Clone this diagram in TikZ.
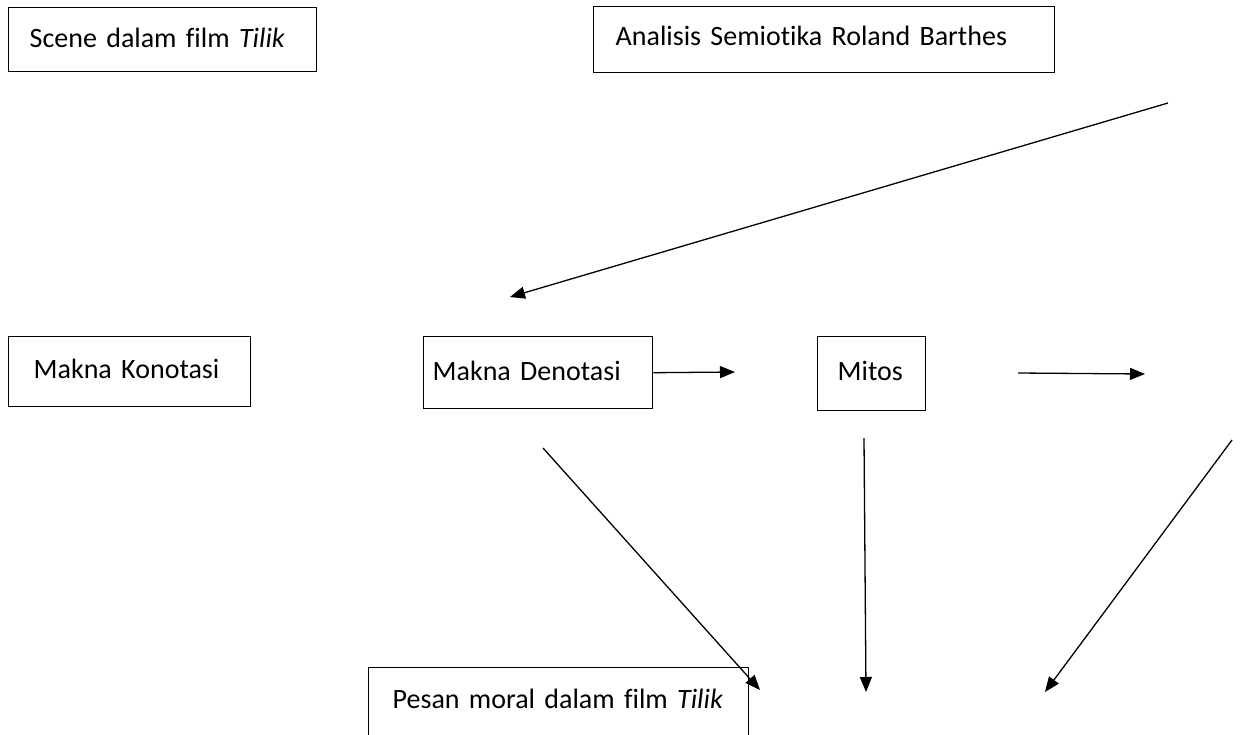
\documentclass[tikz,border=0pt]{standalone}
\usepackage{fontspec}
\setmainfont{Carlito}[Ligatures=NoCommon]
\usetikzlibrary{arrows.meta,positioning}

\begin{document}
\begin{tikzpicture}[x=1pt,y=-1pt,>={Triangle[length=15pt,width=12pt]},
  kotak/.style={draw,line width=1.4pt,inner ysep=0pt,anchor=north west,align=left,
                font=\fontsize{28}{33}\selectfont},
  panah/.style={->,line width=1.3pt}]
  \useasboundingbox (0,0) rectangle (1245,734);
  % kotak-kotak
  \node[kotak,inner xsep=21pt,text width=266pt,text height=40pt,text depth=24pt] (scene) at (8,7) {\mbox{Scene dalam film \textit{Tilik}}};
  \node[kotak,inner xsep=22pt,text width=417pt,text height=39pt,text depth=27pt] (analisis) at (593,6) {\mbox{Analisis Semiotika Roland Barthes}};
  \node[kotak,inner xsep=25pt,text width=192pt,text height=42pt,text depth=28pt] (konotasi) at (8,336) {\mbox{Makna Konotasi}};
  \node[kotak,inner xsep=9pt,text width=211pt,text height=44pt,text depth=28pt] (denotasi) at (423,336) {\mbox{Makna Denotasi}};
  \node[kotak,inner xsep=20pt,text width=68pt,text height=44pt,text depth=30pt] (mitos) at (817,336) {\mbox{Mitos}};
  \node[kotak,inner xsep=24pt,text width=332pt,text height=41pt,text depth=40pt] (pesan) at (368,667) {\mbox{Pesan moral dalam film \textit{Tilik}}};
  % ujung panah
  \coordinate (a1) at (1168,103);
  \coordinate (a2) at (510,297);
  \coordinate (b2) at (735,372);
  \coordinate (c1) at (1018,373);
  \coordinate (c2) at (1145,374);
  \coordinate (d1) at (543,448);
  \coordinate (d2) at (760,690);
  \coordinate (e1) at (864,438);
  \coordinate (e2) at (866,692);
  \coordinate (f1) at (1232,440);
  \coordinate (f2) at (1045,692);
  \draw[panah] (a1) -- (a2);
  \draw[panah] (denotasi.east) -- (b2);
  \draw[panah] (c1) -- (c2);
  \draw[panah] (d1) -- (d2);
  \draw[panah] (e1) -- (e2);
  \draw[panah] (f1) -- (f2);
\end{tikzpicture}
\end{document}
